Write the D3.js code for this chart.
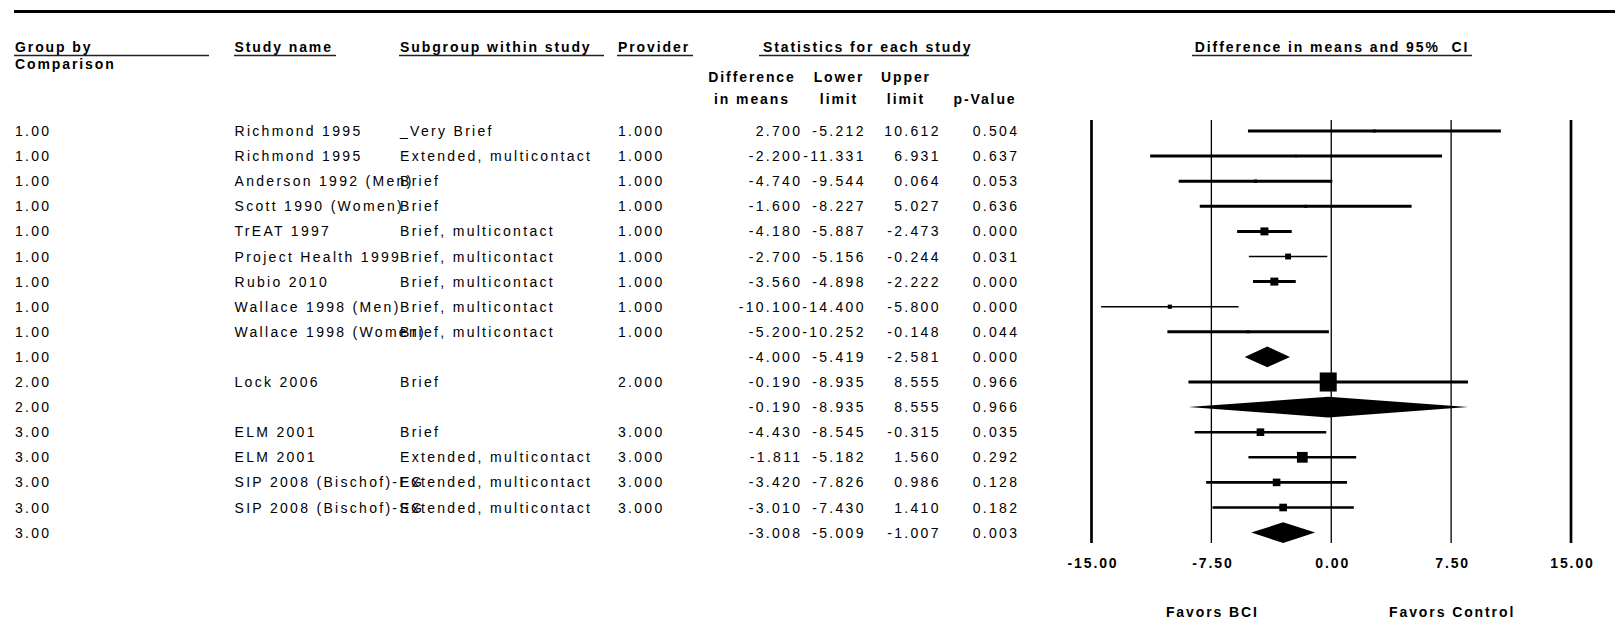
<!DOCTYPE html>
<html>
<head>
<meta charset="utf-8">
<script src="https://cdn.jsdelivr.net/npm/d3@7"></script>
<style>
  html, body { margin: 0; padding: 0; background: #fff; }
  svg { display: block; }
  text { font-family: "Liberation Sans", Arial, sans-serif; fill: #000; }
  .reg { font-size: 14px; letter-spacing: 2.3px; }
  .hdr { font-size: 14px; font-weight: bold; letter-spacing: 1.9px; }
</style>
</head>
<body>
<svg id="chart" width="1615" height="621"></svg>
<script>
// ---- study table ----
const groups = [1, 1, 1, 1, 1, 1, 1, 1, 1, 1, 2, 2, 3, 3, 3, 3, 3];
const studyNames = [
  "Richmond 1995", "Richmond 1995", "Anderson 1992 (Men)", "Scott 1990 (Women)",
  "TrEAT 1997", "Project Health 1999", "Rubio 2010", "Wallace 1998 (Men)",
  "Wallace 1998 (Women)", "", "Lock 2006", "", "ELM 2001", "ELM 2001",
  "SIP 2008 (Bischof)-EG", "SIP 2008 (Bischof)-SG", ""
];
const subgroups = [
  "_Very Brief", "Extended, multicontact", "Brief", "Brief",
  "Brief, multicontact", "Brief, multicontact", "Brief, multicontact",
  "Brief, multicontact", "Brief, multicontact", "", "Brief", "", "Brief",
  "Extended, multicontact", "Extended, multicontact", "Extended, multicontact", ""
];
const providers = [1, 1, 1, 1, 1, 1, 1, 1, 1, null, 2, null, 3, 3, 3, 3, null];
const diffMeans = [2.700, -2.200, -4.740, -1.600, -4.180, -2.700, -3.560, -10.100, -5.200, -4.000,
                   -0.190, -0.190, -4.430, -1.811, -3.420, -3.010, -3.008];
const lowerLimits = [-5.212, -11.331, -9.544, -8.227, -5.887, -5.156, -4.898, -14.400, -10.252, -5.419,
                     -8.935, -8.935, -8.545, -5.182, -7.826, -7.430, -5.009];
const upperLimits = [10.612, 6.931, 0.064, 5.027, -2.473, -0.244, -2.222, -5.800, -0.148, -2.581,
                     8.555, 8.555, -0.315, 1.560, 0.986, 1.410, -1.007];
const pValues = [0.504, 0.637, 0.053, 0.636, 0.000, 0.031, 0.000, 0.000, 0.044, 0.000,
                 0.966, 0.966, 0.035, 0.292, 0.128, 0.182, 0.003];
// relative weight (%) within each comparison group
const weights = [3, 2, 4, 3, 22, 12, 22, 6, 3, null, 100, null, 20, 40, 20, 20, null];
// subgroup summary rows are drawn as diamonds
const isSummary = [false, false, false, false, false, false, false, false, false, true,
                   false, true, false, false, false, false, true];

// ---- axis ----
const tickValues = [-15, -7.5, 0, 7.5, 15];
const favorLabels = [{ text: "Favors BCI", at: -7.5 }, { text: "Favors Control", at: 7.5 }];

// ---- styles ----
const ciStroke = [3, 3, 3, 3, 3, 1.4, 3, 1.4, 3, 0, 3, 0, 2.6, 2.6, 2.6, 2.6, 0];
const LS_REG = 2.3;

const fmtLocale = d3.formatLocale({ decimal: ".", thousands: ",", grouping: [3], currency: ["", ""], minus: "-" });
const f3 = fmtLocale.format(".3f");
const f2 = fmtLocale.format(".2f");

const svg = d3.select("#chart");

const rows = d3.range(groups.length).map(i => ({
  i, group: groups[i], study: studyNames[i], sub: subgroups[i], provider: providers[i],
  diff: diffMeans[i], lo: lowerLimits[i], hi: upperLimits[i], p: pValues[i],
  w: weights[i], summary: isSummary[i], stroke: ciStroke[i]
}));

const x = d3.scaleLinear().domain([-15, 15]).range([1091.5, 1571]);
const y = d3.scalePoint().domain(d3.range(rows.length)).range([131, 532.6]);
const boxSize = d3.scaleSqrt().domain([0, 100]).range([0, 17]);

// top rule
svg.append("line").attr("x1", 14).attr("x2", 1615).attr("y1", 11.5).attr("y2", 11.5)
  .attr("stroke", "#000").attr("stroke-width", 3);

// header labels with underlines
const hdrY = 51.5, ulY = 55.5;
const headers = [
  { t: "Group by", x: 15, u: [14, 209] },
  { t: "Study name", x: 234.5, u: [234, 336] },
  { t: "Subgroup within study", x: 400, u: [399, 604] },
  { t: "Provider", x: 618, u: [617, 693] },
  { t: "Statistics for each study", x: 763, u: [759, 969] },
  { t: "Difference in means and 95%  CI", x: 1332, anchor: "middle", u: [1192, 1472] }
];
headers.forEach(h => {
  svg.append("text").attr("class", "hdr").attr("x", h.x).attr("y", hdrY)
    .attr("text-anchor", h.anchor || "start").style("white-space", "pre").text(h.t);
  svg.append("line").attr("x1", h.u[0]).attr("x2", h.u[1]).attr("y1", ulY).attr("y2", ulY)
    .attr("stroke", "#222").attr("stroke-width", 1.5);
});
svg.append("text").attr("class", "hdr").attr("x", 15).attr("y", 69).text("Comparison");

// statistics column headers
const statCols = [
  { l1: "Difference", l2: "in means", cx: 752 },
  { l1: "Lower", l2: "limit", cx: 839 },
  { l1: "Upper", l2: "limit", cx: 906 },
  { l1: "", l2: "p-Value", cx: 985 }
];
statCols.forEach(c => {
  svg.append("text").attr("class", "hdr").attr("x", c.cx).attr("y", 82).attr("text-anchor", "middle").text(c.l1);
  svg.append("text").attr("class", "hdr").attr("x", c.cx).attr("y", 104).attr("text-anchor", "middle").text(c.l2);
});

// table body
const rowG = svg.append("g").selectAll("g").data(rows).join("g")
  .attr("transform", d => `translate(0,${y(d.i) + 5})`);
const leftText = (sel, xx, fn) => sel.append("text").attr("class", "reg").attr("x", xx).text(fn);
const rightText = (sel, xx, fn) => sel.append("text").attr("class", "reg")
  .attr("x", xx + LS_REG).attr("text-anchor", "end").text(fn);

leftText(rowG, 15, d => f2(d.group));
leftText(rowG, 234.5, d => d.study);
leftText(rowG, 400, d => d.sub);
leftText(rowG, 618, d => d.provider == null ? "" : f3(d.provider));
rightText(rowG, 800, d => f3(d.diff));
rightText(rowG, 863.5, d => f3(d.lo));
rightText(rowG, 938.5, d => f3(d.hi));
rightText(rowG, 1017, d => f3(d.p));

// reference lines of the forest plot
const plotTop = 120, plotBottom = 543;
svg.append("g").selectAll("line").data(tickValues).join("line")
  .attr("x1", d => x(d)).attr("x2", d => x(d))
  .attr("y1", plotTop).attr("y2", plotBottom)
  .attr("stroke", "#000")
  .attr("stroke-width", d => Math.abs(d) === 15 ? 2.7 : 1.3);

// confidence intervals and weighted boxes
const studies = rows.filter(d => !d.summary);
svg.append("g").selectAll("line").data(studies).join("line")
  .attr("x1", d => x(d.lo)).attr("x2", d => x(d.hi))
  .attr("y1", d => y(d.i)).attr("y2", d => y(d.i))
  .attr("stroke", "#000").attr("stroke-width", d => d.stroke);
svg.append("g").selectAll("rect").data(studies).join("rect")
  .attr("x", d => x(d.diff) - boxSize(d.w) / 2)
  .attr("y", d => y(d.i) - boxSize(d.w) / 2 * (d.w >= 100 ? 1.12 : 1))
  .attr("width", d => boxSize(d.w))
  .attr("height", d => boxSize(d.w) * (d.w >= 100 ? 1.12 : 1))
  .attr("fill", "#000");

// summary diamonds
const dh = 10.3;
svg.append("g").selectAll("path").data(rows.filter(d => d.summary)).join("path")
  .attr("d", d => {
    const cy = y(d.i);
    return `M${x(d.lo)},${cy}L${x(d.diff)},${cy - dh}L${x(d.hi)},${cy}L${x(d.diff)},${cy + dh}Z`;
  })
  .attr("fill", "#000");

// x axis labels
const axis = d3.axisBottom(x).tickValues(tickValues).tickFormat(f2).tickSize(0).tickPadding(0);
const axG = svg.append("g").attr("transform", "translate(0,558)").call(axis);
axG.select(".domain").remove();
axG.selectAll("text").attr("class", "hdr").attr("dy", "0.71em")
  .attr("dx", 1).style("font-size", null).style("font-family", null);
axG.attr("font-size", null).attr("font-family", null);

// favour labels
svg.append("g").selectAll("text").data(favorLabels).join("text")
  .attr("class", "hdr").attr("x", d => x(d.at) + 1).attr("y", 617)
  .attr("text-anchor", "middle").text(d => d.text);
</script>
</body>
</html>
